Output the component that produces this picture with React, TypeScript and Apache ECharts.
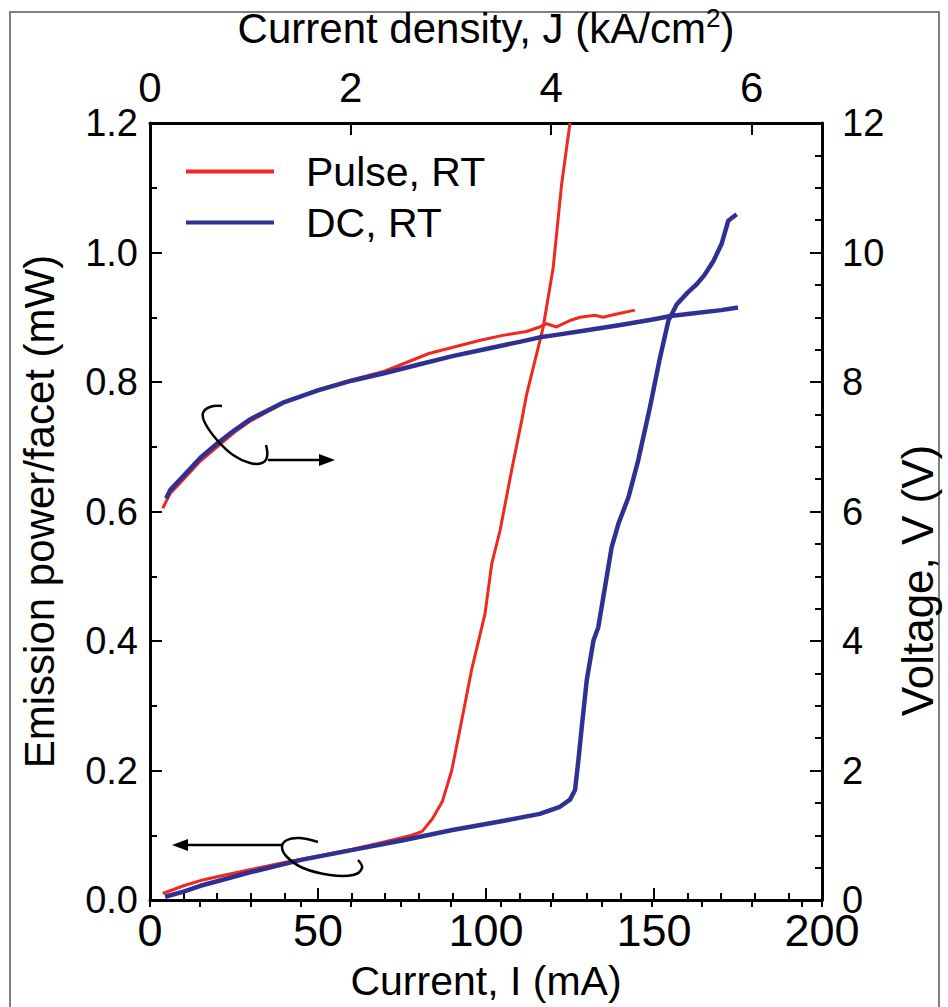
import React, { useEffect, useRef } from "react";
import * as echarts from "echarts";

// ---- Data ----
// Current I (mA) vs emission power (mW), pulse at RT
const pulseL: [number, number][] = [
  [3.8, 0.010], [10, 0.022], [15, 0.030], [20, 0.036], [30, 0.047], [40, 0.058],
  [50, 0.068], [60, 0.078], [70, 0.090], [78, 0.100], [81, 0.106], [84, 0.125],
  [87, 0.152], [89.8, 0.200], [92.8, 0.278], [95.7, 0.355], [99.7, 0.442],
  [101.7, 0.519], [104.2, 0.571], [107.6, 0.663], [110.6, 0.740], [112.1, 0.781],
  [117, 0.884], [120, 0.977], [122.5, 1.105], [125, 1.2],
];
// Current I (mA) vs emission power (mW), DC at RT
const dcL: [number, number][] = [
  [4.5, 0.005], [10, 0.013], [15, 0.022], [20, 0.029], [30, 0.043], [45, 0.062],
  [60, 0.077], [75, 0.092], [90, 0.108], [105, 0.122], [116, 0.133], [122, 0.144],
  [125, 0.155], [126.5, 0.170], [127.5, 0.216], [128.5, 0.267], [130, 0.340],
  [132, 0.401], [133.4, 0.421], [135.4, 0.483], [137.4, 0.545], [139.4, 0.581],
  [142.4, 0.622], [145.3, 0.679], [148.8, 0.761], [151.8, 0.838], [154.3, 0.895],
  [156.8, 0.920], [160, 0.938], [162.7, 0.951], [165, 0.965], [167.7, 0.987],
  [170.1, 1.013], [172.1, 1.049], [174.6, 1.059],
];
// Current I (mA) vs voltage (V), pulse at RT
const pulseV: [number, number][] = [
  [3.8, 6.05], [6, 6.28], [10, 6.5], [15, 6.78], [20, 7.0], [25, 7.22], [30, 7.4],
  [40, 7.68], [50, 7.88], [60, 8.03], [70, 8.17], [83, 8.44], [98, 8.64],
  [105, 8.72], [112, 8.78], [116, 8.85], [118, 8.9], [121, 8.85], [125, 8.95],
  [128, 9.0], [132.4, 9.03], [134.8, 9.0], [138.9, 9.05], [144.3, 9.11],
];
// Current I (mA) vs voltage (V), DC at RT
const dcV: [number, number][] = [
  [4.8, 6.2], [6, 6.33], [10, 6.55], [15, 6.83], [20, 7.05], [25, 7.25], [30, 7.43],
  [40, 7.69], [50, 7.87], [60, 8.02], [70, 8.14], [80, 8.27], [90, 8.4],
  [100, 8.51], [110, 8.62], [116, 8.69], [120, 8.72], [130, 8.8], [140, 8.88],
  [150, 8.97], [155, 9.02], [160, 9.05], [170, 9.11], [175, 9.15],
];

const seriesNames = ["Pulse, RT", "DC, RT"];
const xTicks = { min: 0, max: 200, interval: 50 };
const jTicks = { min: 0, max: 6.7, interval: 2, minor: 0.5 };
const leftTicks = { min: 0, max: 1.2, interval: 0.2 };
const rightTicks = { min: 0, max: 12, interval: 2 };

const RED = "#f0281e";
const BLUE = "#2e3192";
const REG = "'Liberation Sans', Arial, sans-serif";

export default function App() {
  const ref = useRef<HTMLDivElement>(null);
  useEffect(() => {
    if (!ref.current) return;
    const chart = echarts.init(ref.current, null, { renderer: "svg" });
    const axisLine = { show: true, onZero: false, lineStyle: { color: "#000", width: 3 } };
    const tick = { show: true, inside: true, length: 12, lineStyle: { color: "#000", width: 2 } };
    const minorTick = (n: number) => ({ show: true, splitNumber: n, length: 7, lineStyle: { color: "#000", width: 2 } });
    const lineCommon = { type: "line", xAxisIndex: 0, showSymbol: false, symbol: "none", smooth: false };
    const option: any = {
      animation: false,
      backgroundColor: "#fff",
      grid: { left: 150, right: 126, top: 122, bottom: 107, containLabel: false },
      legend: {
        orient: "vertical",
        left: 186,
        top: 151,
        padding: 0,
        itemWidth: 88,
        itemHeight: 4,
        itemGap: 10,
        icon: "rect",
        data: seriesNames,
        textStyle: { fontFamily: REG, fontSize: 41, color: "#000", lineHeight: 40, padding: [0, 0, 0, 27] },
      },
      xAxis: [
        {
          type: "value", position: "bottom", ...xTicks,
          axisLine, axisTick: tick, minorTick: minorTick(5), splitLine: { show: false },
          axisLabel: { fontFamily: REG, fontSize: 45, color: "#000", margin: 8 },
          name: "Current, I (mA)", nameLocation: "middle", nameGap: 60,
          nameTextStyle: { fontFamily: REG, fontSize: 41, color: "#000" },
        },
        {
          type: "value", position: "top", min: jTicks.min, max: jTicks.max, interval: jTicks.interval,
          axisLine, axisTick: tick, splitLine: { show: false },
          axisLabel: { fontFamily: REG, fontSize: 42, color: "#000", margin: 15, showMaxLabel: false },
          name: "Current density, J (kA/cm{sup|2})", nameLocation: "middle", nameGap: 72,
          nameTextStyle: {
            fontFamily: REG, fontSize: 42, color: "#000",
            rich: { sup: { fontFamily: REG, fontSize: 26, color: "#000", verticalAlign: "top", padding: [0, 0, 20, 0] } },
          },
        },
        {
          type: "value", position: "top", min: jTicks.min, max: jTicks.max, interval: jTicks.minor,
          axisLine: { show: false }, axisLabel: { show: false }, splitLine: { show: false },
          axisTick: { show: true, inside: true, length: 7, lineStyle: { color: "#000", width: 2 } },
        },
      ],
      yAxis: [
        {
          type: "value", position: "left", ...leftTicks,
          axisLine, axisTick: tick, minorTick: minorTick(2), splitLine: { show: false },
          axisLabel: { fontFamily: REG, fontSize: 38, color: "#000", margin: 12, formatter: (v: number) => v.toFixed(1) },
          name: "Emission power/facet (mW)", nameLocation: "middle", nameGap: 90, nameRotate: 90,
          nameTextStyle: { fontFamily: REG, fontSize: 42, color: "#000" },
        },
        {
          type: "value", position: "right", ...rightTicks,
          axisLine, axisTick: tick, minorTick: minorTick(4), splitLine: { show: false },
          axisLabel: { fontFamily: REG, fontSize: 38, color: "#000", margin: 20 },
          name: "Voltage, V (V)", nameLocation: "middle", nameGap: 70, nameRotate: 90,
          nameTextStyle: { fontFamily: REG, fontSize: 44, color: "#000", padding: [0, 138, 0, 0] },
        },
      ],
      series: [
        { ...lineCommon, name: seriesNames[0], yAxisIndex: 1, data: pulseV, lineStyle: { color: RED, width: 3, join: "round" }, itemStyle: { color: RED }, z: 3 },
        { ...lineCommon, name: seriesNames[0], yAxisIndex: 0, data: pulseL, lineStyle: { color: RED, width: 3, join: "round" }, itemStyle: { color: RED }, z: 3 },
        { ...lineCommon, name: seriesNames[1], yAxisIndex: 1, data: dcV, lineStyle: { color: BLUE, width: 4.5, join: "round" }, itemStyle: { color: BLUE }, z: 4 },
        { ...lineCommon, name: seriesNames[1], yAxisIndex: 0, data: dcL, lineStyle: { color: BLUE, width: 4.5, join: "round" }, itemStyle: { color: BLUE }, z: 4 },
      ],
      graphic: [
        { type: "rect", shape: { x: 10, y: 12, width: 929, height: 1010 }, style: { fill: "none", stroke: "#808080", lineWidth: 2 }, z: -10, silent: true },
        // upper annotation: loop + arrow to the right (voltage axis)
        { type: "polyline", shape: { points: [[222, 406], [210, 407], [203, 413], [205, 423], [217, 440], [233, 455], [250, 463], [262, 463], [267, 457], [266, 445]], smooth: 0.4 }, style: { fill: "none", stroke: "#000", lineWidth: 2.5 }, z: 10 },
        { type: "line", shape: { x1: 268, y1: 460, x2: 322, y2: 460 }, style: { stroke: "#000", lineWidth: 2.5 }, z: 10 },
        { type: "polygon", shape: { points: [[335, 460], [319, 454], [319, 466]] }, style: { fill: "#000" }, z: 10 },
        // lower annotation: loop + arrow to the left (power axis)
        { type: "polyline", shape: { points: [[318, 842], [300, 838], [287, 840], [282, 847], [287, 857], [303, 868], [330, 875], [353, 875], [362, 868], [358, 860]], smooth: 0.4 }, style: { fill: "none", stroke: "#000", lineWidth: 2.5 }, z: 10 },
        { type: "line", shape: { x1: 282, y1: 845, x2: 185, y2: 845 }, style: { stroke: "#000", lineWidth: 2.5 }, z: 10 },
        { type: "polygon", shape: { points: [[172, 845], [188, 839], [188, 851]] }, style: { fill: "#000" }, z: 10 },
      ],
    };
    chart.setOption(option);
    return () => chart.dispose();
  }, []);
  return <div ref={ref} style={{ position: "fixed", left: 0, top: 0, width: 948, height: 1007 }} />;
}
